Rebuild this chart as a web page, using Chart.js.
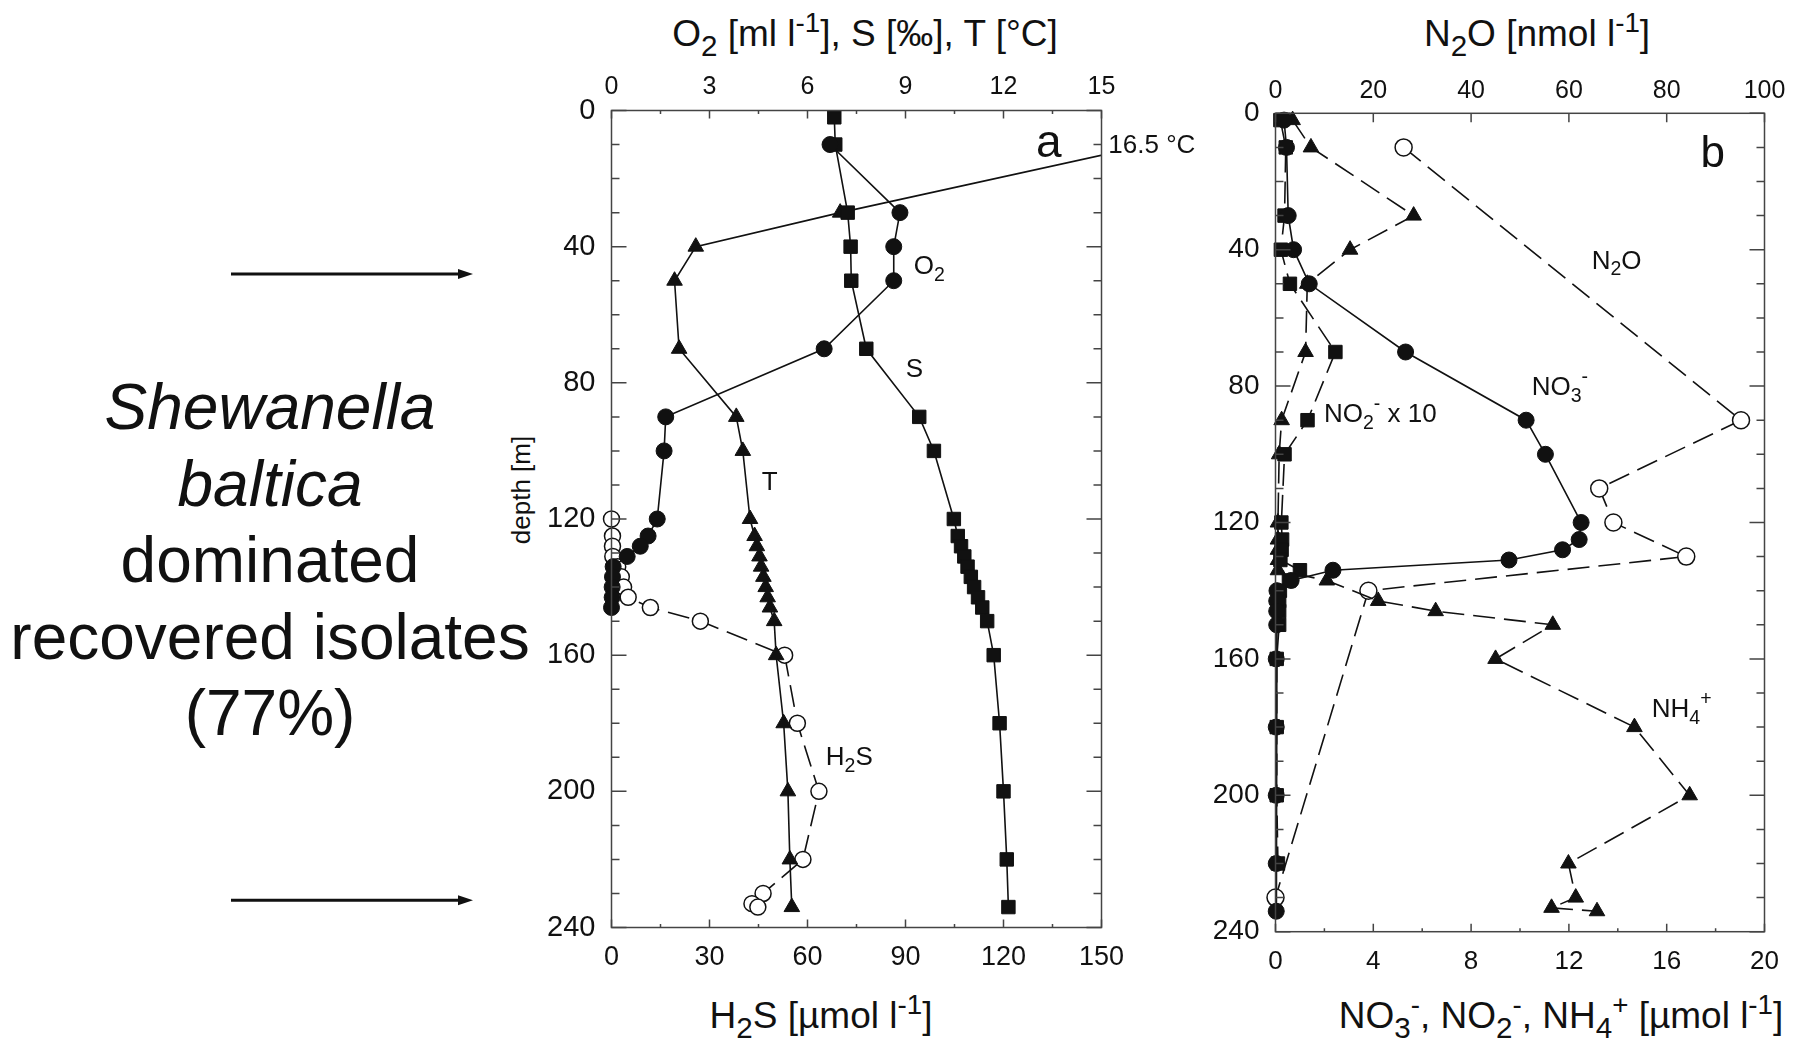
<!DOCTYPE html>
<html>
<head>
<meta charset="utf-8">
<script src="https://cdn.jsdelivr.net/npm/chart.js@4.4.1/dist/chart.umd.min.js"></script>
<style>
  body { margin: 0; width: 1814px; height: 1040px; background: #fff; position: relative; overflow: hidden;
         font-family: "Liberation Sans", Arial, sans-serif; color: #111; }
  .panel { position: absolute; top: 0; height: 1040px; }
  .ttl { position: absolute; font-size: 37px; line-height: 1; white-space: nowrap; transform: translate(-50%, -50%); }
  .sb { font-size: 0.8em; position: relative; top: 0.33em; }
  .sp { font-size: 0.75em; position: relative; top: -0.5em; }
  #note { position: absolute; left: 0; top: 369px; width: 540px; text-align: center; font-size: 64px; line-height: 76.5px; }
  #depthLbl { position: absolute; left: 521px; top: 490px; font-size: 26px; white-space: nowrap; transform: translate(-50%, -50%) rotate(-90deg); }
</style>
</head>
<body>
<div id="note"><i>Shewanella<br>baltica</i><br>dominated<br>recovered isolates<br>(77%)</div>
<div id="depthLbl">depth [m]</div>
<div class="ttl" style="left:865px;top:33px">O<span class="sb">2</span> [ml l<span class="sp">-1</span>], S [‰], T [°C]</div>
<div class="ttl" style="left:821px;top:1015px">H<span class="sb">2</span>S [µmol l<span class="sp">-1</span>]</div>
<div class="ttl" style="left:1537px;top:33px">N<span class="sb">2</span>O [nmol l<span class="sp">-1</span>]</div>
<div class="ttl" style="left:1561px;top:1015px">NO<span class="sb">3</span><span class="sp">-</span>, NO<span class="sb">2</span><span class="sp">-</span>, NH<span class="sb">4</span><span class="sp">+</span> [µmol l<span class="sp">-1</span>]</div>

<div class="panel" style="left:0;width:1200px"><canvas id="chartA"></canvas></div>
<div class="panel" style="left:1160px;width:654px"><canvas id="chartB"></canvas></div>

<script>
// ----- panel a: O2, S, T (top axis) and H2S (bottom axis) -----
const o2Depth = [10, 30, 40, 50, 70, 90, 100, 120, 125, 128, 131, 134, 137, 140, 143, 146];
const o2 = [6.69, 8.83, 8.64, 8.64, 6.51, 1.66, 1.61, 1.4, 1.12, 0.88, 0.48, 0.05, 0.03, 0.02, 0.02, 0];

const sDepth = [2, 10, 30, 40, 50, 70, 90, 100, 120, 125, 128, 131, 134, 137, 140, 143, 146, 150, 160, 180, 200, 220, 234];
const salinity = [6.82, 6.85, 7.23, 7.32, 7.34, 7.8, 9.42, 9.87, 10.48, 10.6, 10.7, 10.8, 10.9, 11.0, 11.1, 11.22, 11.35, 11.5, 11.7, 11.88, 12.0, 12.1, 12.15];

const tDepth = [10, 30, 40, 50, 70, 90, 100, 120, 125, 128, 131, 134, 137, 140, 143, 146, 150, 160, 180, 200, 220, 234];
const temp = [16.5, 7.0, 2.58, 1.93, 2.07, 3.82, 4.02, 4.24, 4.38, 4.45, 4.53, 4.58, 4.65, 4.72, 4.78, 4.85, 4.98, 5.04, 5.27, 5.4, 5.46, 5.52];

const h2sDepth = [120, 125, 128, 131, 134, 137, 140, 143, 146, 150, 160, 180, 200, 220, 230, 233, 234];
const h2s = [0, 0.3, 0.3, 0.4, 1.9, 3.0, 3.7, 5.1, 11.9, 27.2, 53, 56.9, 63.5, 58.6, 46.4, 43, 44.8];

// ----- panel b: N2O (top axis), NO3-, NO2- x10, NH4+ (bottom axis) -----
const n2oDepth = [10, 90, 110, 120, 130, 140, 230];
const n2o = [26.2, 95.2, 66.2, 69.1, 84.0, 19.0, 0];

const no3Depth = [2, 10, 30, 40, 50, 70, 90, 100, 120, 125, 128, 131, 134, 137, 140, 143, 146, 150, 160, 180, 200, 220, 234];
const no3 = [0.35, 0.45, 0.52, 0.74, 1.38, 5.32, 10.25, 11.04, 12.5, 12.42, 11.74, 9.55, 2.35, 0.64, 0.06, 0.05, 0.05, 0.05, 0.03, 0.03, 0.03, 0.03, 0.03];

const no2Depth = [2, 10, 30, 40, 50, 70, 90, 100, 120, 125, 128, 131, 134, 137, 140, 143, 146, 150, 160, 180, 200, 220];
const no2x10 = [0.2, 0.42, 0.37, 0.22, 0.59, 2.45, 1.31, 0.37, 0.24, 0.27, 0.25, 0.2, 1.0, 0.55, 0.18, 0.15, 0.15, 0.15, 0.05, 0.05, 0.05, 0.1];

const nh4Depth = [2, 10, 30, 40, 50, 70, 90, 100, 120, 125, 128, 131, 134, 137, 143, 146, 150, 160, 180, 200, 220, 230, 233, 234];
const nh4 = [0.7, 1.45, 5.65, 3.05, 1.3, 1.23, 0.25, 0.15, 0.1, 0.1, 0.1, 0.1, 0.1, 2.1, 4.2, 6.55, 11.34, 9.0, 14.68, 16.94, 11.98, 12.28, 11.29, 13.15];

// depths marked by the arrows on the left
const arrowDepths = [48, 232];

const FONT = '"Liberation Sans", Arial, sans-serif';
const INK = '#111';

function pts(depths, vals) {
  return depths.map((d, i) => ({ x: vals[i], y: d }));
}

function series(label, depths, vals, axis, style, radius, dashed, hollow) {
  return {
    label: label,
    data: pts(depths, vals),
    xAxisID: axis,
    borderColor: INK,
    borderWidth: 1.6,
    borderDash: dashed ? [22, 9] : [],
    pointStyle: style,
    pointRadius: radius,
    pointBackgroundColor: hollow ? '#fff' : INK,
    pointBorderColor: INK,
    pointBorderWidth: hollow ? 1.5 : 1,
    tension: 0,
    clip: false
  };
}

// draws text with sub/superscript parts
function drawRich(ctx, parts, x, y, size, align) {
  let w = 0;
  parts.forEach(p => {
    ctx.font = (p[1] ? size * 0.75 : size) + 'px ' + FONT;
    w += ctx.measureText(p[0]).width;
  });
  let cx = align === 'center' ? x - w / 2 : x;
  ctx.textAlign = 'left';
  ctx.textBaseline = 'middle';
  parts.forEach(p => {
    const fs = p[1] ? size * 0.75 : size;
    ctx.font = fs + 'px ' + FONT;
    const dy = p[1] === 'sub' ? size * 0.32 : (p[1] === 'sup' ? -size * 0.4 : 0);
    ctx.fillText(p[0], cx, y + dy);
    cx += ctx.measureText(p[0]).width;
  });
}

// frame, inward tick marks, in-plot labels and arrows
const decor = {
  id: 'decor',
  afterDatasetsDraw(chart, args, opts) {
    const ctx = chart.ctx;
    const a = chart.chartArea;
    ctx.save();
    ctx.strokeStyle = '#444';
    ctx.lineWidth = 1.5;
    ctx.setLineDash([]);
    ctx.strokeRect(a.left, a.top, a.right - a.left, a.bottom - a.top);
    ctx.beginPath();
    (opts.marks || []).forEach(m => {
      const s = chart.scales[m.scale];
      for (let v = s.min; v <= s.max + 1e-9; v += m.step) {
        const p = s.getPixelForValue(v);
        m.sides.forEach(side => {
          if (side === 'top') { ctx.moveTo(p, a.top); ctx.lineTo(p, a.top + m.len); }
          if (side === 'bottom') { ctx.moveTo(p, a.bottom); ctx.lineTo(p, a.bottom - m.len); }
          if (side === 'left') { ctx.moveTo(a.left, p); ctx.lineTo(a.left + m.len, p); }
          if (side === 'right') { ctx.moveTo(a.right, p); ctx.lineTo(a.right - m.len, p); }
        });
      }
    });
    ctx.stroke();

    ctx.fillStyle = INK;
    (opts.labels || []).forEach(l => {
      const x = chart.scales[l.scale].getPixelForValue(l.x);
      const y = chart.scales.y.getPixelForValue(l.y);
      drawRich(ctx, l.parts, x, y, l.size, l.align);
    });

    (opts.arrows || []).forEach(d => {
      const y = chart.scales.y.getPixelForValue(d);
      ctx.strokeStyle = INK;
      ctx.lineWidth = 3;
      ctx.beginPath();
      ctx.moveTo(231, y);
      ctx.lineTo(462, y);
      ctx.stroke();
      ctx.beginPath();
      ctx.moveTo(473, y);
      ctx.lineTo(458, y - 5);
      ctx.lineTo(458, y + 5);
      ctx.closePath();
      ctx.fill();
    });
    ctx.restore();
  }
};

function axisX(pos, min, max, step, size, pad, boxH) {
  return {
    type: 'linear', position: pos, min: min, max: max,
    grid: { display: false, drawTicks: false },
    border: { display: false },
    ticks: { stepSize: step, padding: pad, color: INK, font: { family: FONT, size: size } },
    afterFit(s) { s.height = boxH; }
  };
}

function axisY(size, pad, boxW) {
  return {
    type: 'linear', position: 'left', min: 0, max: 240, reverse: true,
    grid: { display: false, drawTicks: false },
    border: { display: false },
    ticks: { stepSize: 40, padding: pad, color: INK, font: { family: FONT, size: size } },
    afterFit(s) { s.width = boxW; }
  };
}

const tSeries = series('T', tDepth, temp, 'x', 'triangle', 9, false, false);
tSeries.clip = { left: 20, top: 20, right: 0, bottom: 20 };

new Chart(document.getElementById('chartA'), {
  type: 'line',
  data: {
    datasets: [
      series('O2', o2Depth, o2, 'x', 'circle', 8, false, false),
      series('S', sDepth, salinity, 'x', 'rect', 9.5, false, false),
      tSeries,
      series('H2S', h2sDepth, h2s, 'xb', 'circle', 8, true, true)
    ]
  },
  options: {
    responsive: true, maintainAspectRatio: false, animation: false,
    layout: { padding: { left: 0, right: 98.5, top: 0, bottom: 0 } },
    plugins: {
      legend: { display: false }, tooltip: { enabled: false },
      decor: {
        marks: [
          { scale: 'x', step: 3, len: 8, sides: ['top'] },
          { scale: 'x', step: 1.5, len: 3.5, sides: ['top'] },
          { scale: 'xb', step: 30, len: 8, sides: ['bottom'] },
          { scale: 'xb', step: 15, len: 3.5, sides: ['bottom'] },
          { scale: 'y', step: 10, len: 8, sides: ['left', 'right'] },
          { scale: 'y', step: 40, len: 15, sides: ['left', 'right'] }
        ],
        labels: [
          { scale: 'x', x: 13.39, y: 9.8, size: 46, align: 'center', parts: [['a']] },
          { scale: 'x', x: 15.21, y: 10.4, size: 26, align: 'left', parts: [['16.5 °C']] },
          { scale: 'x', x: 9.25, y: 46, size: 26, align: 'left', parts: [['O'], ['2', 'sub']] },
          { scale: 'x', x: 9.01, y: 76.2, size: 26, align: 'left', parts: [['S']] },
          { scale: 'x', x: 4.6, y: 109.4, size: 26, align: 'left', parts: [['T']] },
          { scale: 'x', x: 6.56, y: 190.2, size: 26, align: 'left', parts: [['H'], ['2', 'sub'], ['S']] }
        ],
        arrows: arrowDepths
      }
    },
    scales: {
      x: axisX('top', 0, 15, 3, 25, 8, 110.5),
      xb: axisX('bottom', 0, 150, 30, 27, 14, 112.5),
      y: axisY(29, 16, 611.5)
    }
  },
  plugins: [decor]
});

new Chart(document.getElementById('chartB'), {
  type: 'line',
  data: {
    datasets: [
      series('NO3', no3Depth, no3, 'xb', 'circle', 8, false, false),
      series('NO2 x 10', no2Depth, no2x10, 'xb', 'rect', 9.5, true, false),
      series('NH4', nh4Depth, nh4, 'xb', 'triangle', 9, true, false),
      series('N2O', n2oDepth, n2o, 'x', 'circle', 8.5, true, true)
    ]
  },
  options: {
    responsive: true, maintainAspectRatio: false, animation: false,
    layout: { padding: { left: 0, right: 49.5, top: 0, bottom: 0 } },
    plugins: {
      legend: { display: false }, tooltip: { enabled: false },
      decor: {
        marks: [
          { scale: 'x', step: 20, len: 9, sides: ['top'] },
          { scale: 'xb', step: 4, len: 8, sides: ['bottom'] },
          { scale: 'xb', step: 2, len: 3.5, sides: ['bottom'] },
          { scale: 'y', step: 10, len: 8, sides: ['left', 'right'] },
          { scale: 'y', step: 40, len: 15, sides: ['left', 'right'] }
        ],
        labels: [
          { scale: 'xb', x: 17.88, y: 12.2, size: 44, align: 'center', parts: [['b']] },
          { scale: 'xb', x: 12.93, y: 43.5, size: 26, align: 'left', parts: [['N'], ['2', 'sub'], ['O']] },
          { scale: 'xb', x: 10.48, y: 80.5, size: 26, align: 'left', parts: [['NO'], ['3', 'sub'], ['-', 'sup']] },
          { scale: 'xb', x: 1.98, y: 88.5, size: 26, align: 'left', parts: [['NO'], ['2', 'sub'], ['-', 'sup'], [' x 10']] },
          { scale: 'xb', x: 15.39, y: 175, size: 26, align: 'left', parts: [['NH'], ['4', 'sub'], ['+', 'sup']] }
        ]
      }
    },
    scales: {
      x: axisX('top', 0, 100, 20, 25, 7, 113.3),
      xb: axisX('bottom', 0, 20, 4, 26, 14.7, 108.3),
      y: axisY(28, 16, 115.5)
    }
  },
  plugins: [decor]
});
</script>
</body>
</html>
